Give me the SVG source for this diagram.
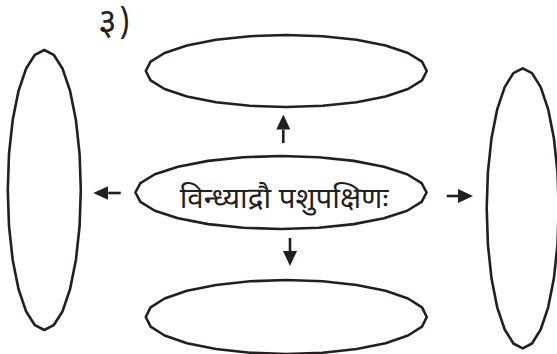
<svg xmlns="http://www.w3.org/2000/svg" width="557" height="354" viewBox="0 0 557 354">
<style>
.shape{fill:none;stroke:#231f20;stroke-width:2.6;stroke-linejoin:round}
.conn{fill:none;stroke:#231f20;stroke-width:2.6}
.lbl{font-family:"Noto Sans Devanagari","Noto Sans","DejaVu Sans",sans-serif;fill:#231f20}
</style>
<defs>
<marker id="ah" viewBox="0 0 15 14" refX="0" refY="7" markerWidth="15" markerHeight="14" markerUnits="userSpaceOnUse" orient="auto">
<path d="M0,0 L15,7 L0,14 z" fill="#231f20"/>
</marker>
</defs>
<rect width="557" height="354" fill="#ffffff"/>
<text class="lbl" x="98" y="34"><tspan font-size="36">३</tspan><tspan font-size="32" dx="2">)</tspan></text>
<g id="top">
<polygon class="shape" points="426.8,71 422,80.3 408,89 385.6,96.5 356.6,102.2 322.7,105.8 286.3,107 249.9,105.8 216,102.2 187,96.5 164.6,89 150.6,80.3 145.8,71 150.6,61.7 164.6,53 187,45.5 216,39.8 249.9,36.2 286.3,35 322.7,36.2 356.6,39.8 385.6,45.5 408,53 422,61.7"/>
</g>
<g id="bottom">
<polygon class="shape" points="426.8,317 422,326.6 408,335.5 385.6,343.2 356.6,349 322.7,352.7 286.3,354 249.9,352.7 216,349 187,343.2 164.6,335.5 150.6,326.6 145.8,317 150.6,307.4 164.6,298.5 187,290.8 216,285 249.9,281.3 286.3,280 322.7,281.3 356.6,285 385.6,290.8 408,298.5 422,307.4"/>
</g>
<g id="left">
<polygon class="shape" points="80.8,190 79.6,226.2 75.9,260 70.1,289 62.6,311.2 53.7,325.2 44.3,330 34.9,325.2 26,311.2 18.5,289 12.7,260 9,226.2 7.8,190 9,153.8 12.7,120 18.5,91 26,68.8 34.9,54.8 44.3,50 53.7,54.8 62.6,68.8 70.1,91 75.9,120 79.6,153.8"/>
</g>
<g id="right">
<polygon class="shape" points="558.7,208.3 557.5,244.5 553.9,278.3 548.2,307.3 540.7,329.5 532,343.5 522.7,348.3 513.4,343.5 504.7,329.5 497.2,307.3 491.5,278.3 487.9,244.5 486.7,208.3 487.9,172.1 491.5,138.3 497.2,109.3 504.7,87.1 513.4,73.1 522.7,68.3 532,73.1 540.7,87.1 548.2,109.3 553.9,138.3 557.5,172.1"/>
</g>
<g id="center">
<polygon class="shape" points="426.6,192.5 421.6,201.9 407.1,210.75 384,218.3 353.8,224.1 318.7,227.8 281,229 243.3,227.8 208.2,224.1 178,218.3 154.9,210.75 140.4,201.9 135.4,192.5 140.4,183.1 154.9,174.25 178,166.7 208.2,160.9 243.3,157.2 281,156 318.7,157.2 353.8,160.9 384,166.7 407.1,174.25 421.6,183.1"/>
<text class="lbl" x="284" y="207.5" font-size="29.5" text-anchor="middle">विन्ध्याद्रौ पशुपक्षिणः</text>
</g>
<g id="connectors">
<path class="conn" d="M283.3,143 L283.3,129.5" marker-end="url(#ah)"/>
<path class="conn" d="M290,238 L290,251" marker-end="url(#ah)"/>
<path class="conn" d="M120.7,193 L108.3,193" marker-end="url(#ah)"/>
<path class="conn" d="M446.7,196 L458,196" marker-end="url(#ah)"/>
</g>
</svg>
